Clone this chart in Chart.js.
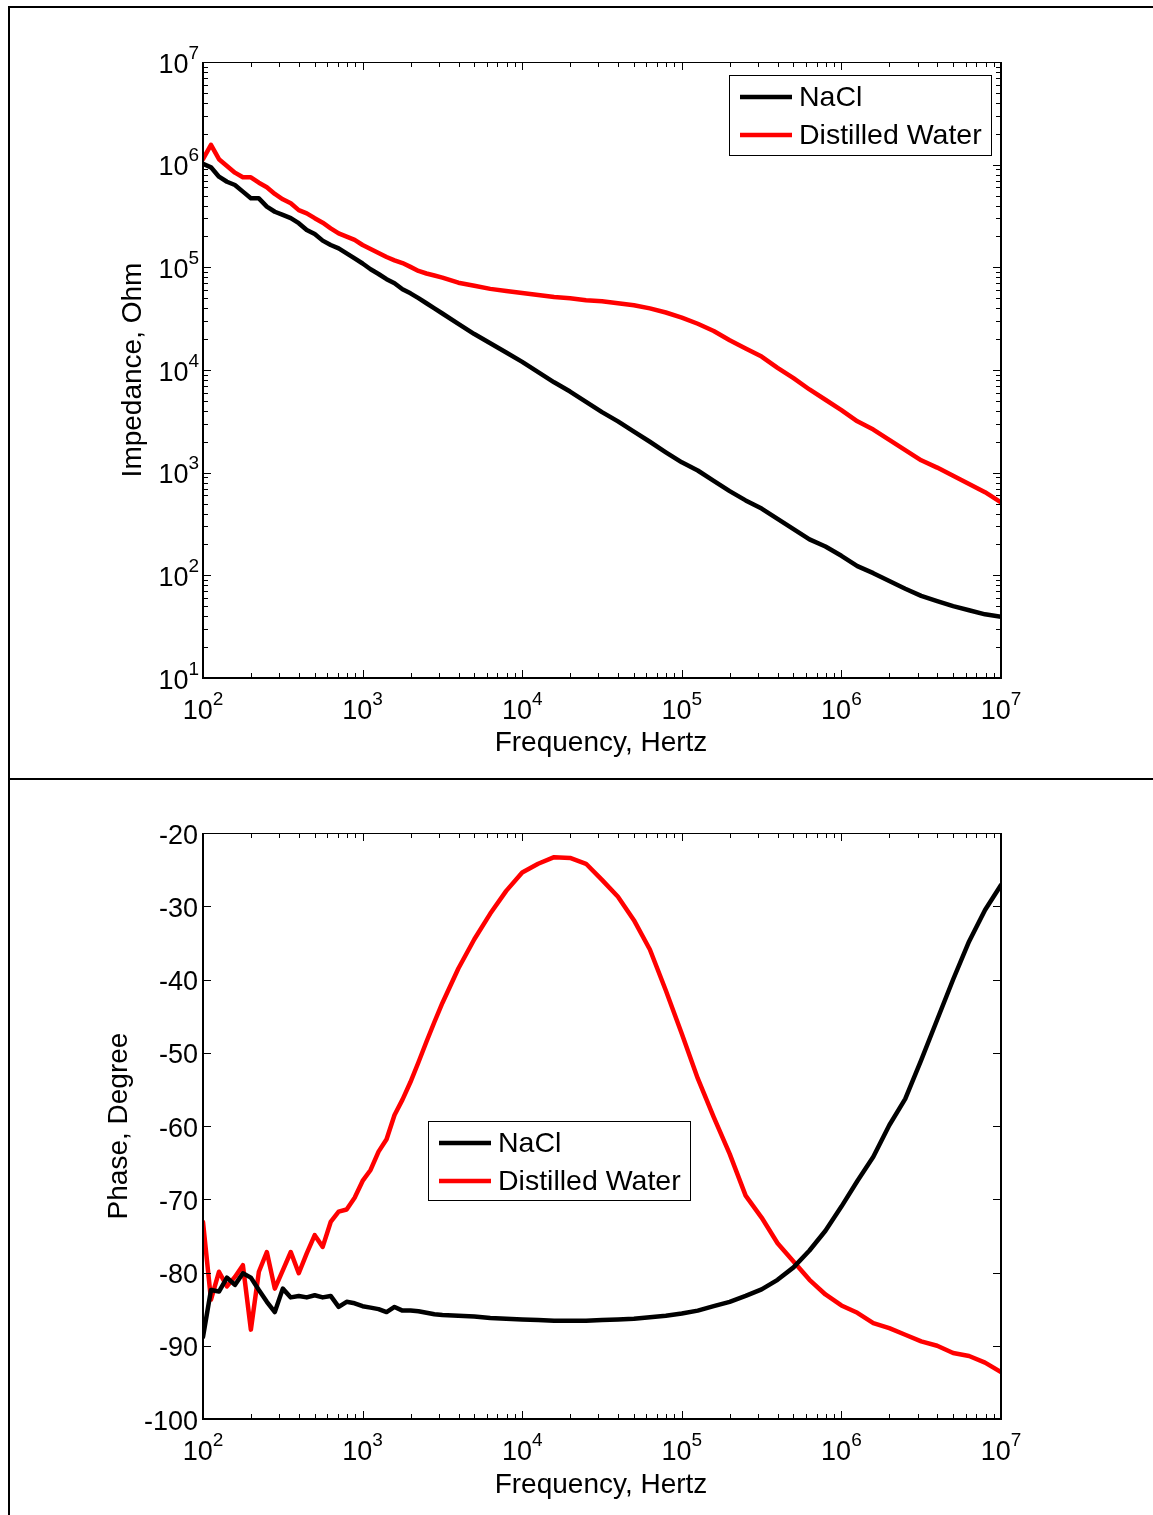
<!DOCTYPE html>
<html><head><meta charset="utf-8">
<script src="https://cdn.jsdelivr.net/npm/chart.js@4/dist/chart.umd.min.js"></script>
<style>
html,body{margin:0;padding:0;background:#fff;width:1153px;height:1515px;overflow:hidden;position:relative}
canvas{position:absolute;left:0}
#c1{top:0}
#c2{top:780px}
.ln{position:absolute;background:#000}
</style></head><body>
<canvas id="c1" width="1153" height="778"></canvas>
<canvas id="c2" width="1153" height="735"></canvas>
<div class="ln" style="left:8px;top:6px;width:1145px;height:2px"></div>
<div class="ln" style="left:8px;top:6px;width:2px;height:1509px"></div>
<div class="ln" style="left:8px;top:778px;width:1145px;height:2px"></div>
<script>
const frequencies = [100,112.2,125.9,141.3,158.5,177.8,199.5,223.9,251.2,281.8,316.2,354.8,398.1,446.7,501.2,562.3,631,707.9,794.3,891.3,1000,1122,1259,1413,1585,1778,1995,2239,2512,2818,3162,3981,5012,6310,7943,10000,12589,15849,19953,25119,31623,39811,50119,63096,79433,100000,125893,158489,199526,251189,316228,398107,501187,630957,794328,1000000,1258925,1584893,1995262,2511886,3162278,3981072,5011872,6309573,7943282,10000000];
const naclImpedance = [1.02e6,9.42e5,7.64e5,6.82e5,6.34e5,5.46e5,4.70e5,4.70e5,3.90e5,3.48e5,3.24e5,3.01e5,2.69e5,2.31e5,2.11e5,1.82e5,1.65e5,1.53e5,1.37e5,1.22e5,1.09e5,9.57e4,8.61e4,7.66e4,7.00e4,6.11e4,5.58e4,5.01e4,4.47e4,3.98e4,3.55e4,2.82e4,2.24e4,1.82e4,1.48e4,1.20e4,9550,7590,6170,4900,3890,3160,2510,2000,1580,1260,1050,832,661,537,447,355,282,224,191,155,123,105,88.1,74.1,63.1,56.2,50.1,45.7,41.7,39.4];
const waterImpedance = [1.13e6,1.56e6,1.13e6,9.70e5,8.36e5,7.53e5,7.53e5,6.67e5,6.03e5,5.18e5,4.60e5,4.21e5,3.61e5,3.36e5,3.01e5,2.72e5,2.40e5,2.14e5,1.99e5,1.85e5,1.65e5,1.51e5,1.38e5,1.26e5,1.17e5,1.10e5,1.01e5,9.23e4,8.71e4,8.32e4,7.94e4,7.08e4,6.61e4,6.17e4,5.89e4,5.62e4,5.37e4,5.13e4,5.01e4,4.79e4,4.68e4,4.47e4,4.27e4,3.98e4,3.63e4,3.24e4,2.82e4,2.40e4,1.95e4,1.62e4,1.35e4,1.05e4,8320,6460,5130,4070,3160,2630,2090,1660,1320,1120,933,776,646,513];
const naclPhase = [-88.8,-82.4,-82.6,-80.7,-81.7,-80.1,-80.7,-82.4,-84.0,-85.4,-82.2,-83.4,-83.2,-83.4,-83.1,-83.4,-83.2,-84.7,-84.0,-84.2,-84.6,-84.8,-85.0,-85.4,-84.7,-85.2,-85.2,-85.3,-85.5,-85.7,-85.8,-85.9,-86.0,-86.2,-86.3,-86.4,-86.5,-86.6,-86.6,-86.6,-86.5,-86.4,-86.3,-86.1,-85.9,-85.6,-85.2,-84.6,-84.0,-83.2,-82.3,-81.0,-79.3,-77.0,-74.3,-71.0,-67.5,-64.2,-59.9,-56.3,-51.0,-45.5,-40.0,-34.8,-30.5,-27.1];
const waterPhase = [-73.1,-83.7,-79.9,-81.9,-80.6,-79.0,-87.8,-79.9,-77.2,-82.2,-79.7,-77.2,-80.1,-77.4,-74.9,-76.5,-73.1,-71.7,-71.4,-69.8,-67.5,-66.0,-63.5,-61.8,-58.5,-56.4,-54.0,-51.3,-48.5,-45.8,-43.2,-38.5,-34.5,-31.0,-27.9,-25.4,-24.2,-23.3,-23.4,-24.2,-26.4,-28.7,-31.9,-35.9,-41.5,-47.4,-53.5,-58.8,-63.8,-69.5,-72.5,-76.0,-78.5,-81.0,-83.0,-84.5,-85.5,-86.9,-87.6,-88.5,-89.4,-90.0,-91.0,-91.4,-92.3,-93.6];
const seriesLabels = ['NaCl', 'Distilled Water'];
const seriesColors = ['#000000', '#ff0000'];
const xTickExponents = [2, 3, 4, 5, 6, 7];
const impedanceTickExponents = [1, 2, 3, 4, 5, 6, 7];
const phaseTicks = [-20, -30, -40, -50, -60, -70, -80, -90, -100];
const xTitle = 'Frequency, Hertz';
const impedanceTitle = 'Impedance, Ohm';
const phaseTitle = 'Phase, Degree';

const FONT = '"Liberation Sans", Arial, Helvetica, sans-serif';
const LINE_W = 4.5;

function pts(vals) { return frequencies.map((f, i) => ({x: f, y: vals[i]})); }

function drawPow(ctx, exp, x, baseY, align) {
  ctx.font = '27px ' + FONT; const w1 = ctx.measureText('10').width;
  ctx.font = '19px ' + FONT; const w2 = ctx.measureText(String(exp)).width;
  const start = align === 'center' ? x - (w1 + w2) / 2 : x - (w1 + w2);
  ctx.textAlign = 'left'; ctx.textBaseline = 'alphabetic';
  ctx.font = '27px ' + FONT; ctx.fillText('10', start, baseY);
  ctx.font = '19px ' + FONT; ctx.fillText(String(exp), start + w1, baseY - 14);
}

function logTickValues(exps) {
  const major = exps.map(e => Math.pow(10, e)), minor = [];
  for (let i = 0; i < exps.length - 1; i++) for (let m = 2; m <= 9; m++) minor.push(m * Math.pow(10, exps[i]));
  return {major, minor};
}

function axesPlugin(cfg) {
  return {
    id: 'matlabAxes',
    afterDraw(chart) {
      const ctx = chart.ctx, a = chart.chartArea, xs = chart.scales.x, ys = chart.scales.y;
      const L = Math.round(a.left), R = Math.round(a.right), T = Math.round(a.top), B = Math.round(a.bottom);
      ctx.save();
      ctx.strokeStyle = '#000'; ctx.fillStyle = '#000'; ctx.lineWidth = 1;
      const seg = (x1, y1, x2, y2) => { ctx.beginPath(); ctx.moveTo(x1, y1); ctx.lineTo(x2, y2); ctx.stroke(); };
      const MAJ = 8, MIN = 5;
      const xt = logTickValues(xTickExponents);
      xt.major.forEach(v => { const x = Math.round(xs.getPixelForValue(v)) + 0.5; seg(x, B, x, B - MAJ); seg(x, T, x, T + MAJ); });
      xt.minor.forEach(v => { const x = Math.round(xs.getPixelForValue(v)) + 0.5; seg(x, B, x, B - MIN); seg(x, T, x, T + MIN); });
      if (cfg.logY) {
        const yt = logTickValues(impedanceTickExponents);
        yt.major.forEach(v => { const y = Math.round(ys.getPixelForValue(v)) + 0.5; seg(L, y, L + MAJ, y); seg(R, y, R - MAJ, y); });
        yt.minor.forEach(v => { const y = Math.round(ys.getPixelForValue(v)) + 0.5; seg(L, y, L + MIN, y); seg(R, y, R - MIN, y); });
      } else {
        phaseTicks.forEach(v => { const y = Math.round(ys.getPixelForValue(v)) + 0.5; seg(L, y, L + MAJ, y); seg(R, y, R - MAJ, y); });
      }
      ctx.lineWidth = 2;
      seg(L, B, R + 1, B); seg(L, T, L, B + 1); seg(R, T, R, B + 1);
      ctx.lineWidth = 1;
      seg(L, T + 0.5, R, T + 0.5);
      xTickExponents.forEach(e => drawPow(ctx, e, xs.getPixelForValue(Math.pow(10, e)), B + 41, 'center'));
      if (cfg.logY) {
        impedanceTickExponents.forEach(e => drawPow(ctx, e, L - 4, ys.getPixelForValue(Math.pow(10, e)) + 10.5, 'right'));
      } else {
        ctx.font = '27px ' + FONT; ctx.textAlign = 'right'; ctx.textBaseline = 'alphabetic';
        phaseTicks.forEach(v => ctx.fillText(String(v), L - 5, ys.getPixelForValue(v) + 10.5));
      }
      ctx.font = '28px ' + FONT; ctx.textAlign = 'center'; ctx.textBaseline = 'alphabetic';
      ctx.fillText(xTitle, (L + R) / 2 - 1, B + cfg.xTitleOffset);
      ctx.save();
      ctx.translate(cfg.yTitleX, (T + B) / 2); ctx.rotate(-Math.PI / 2);
      ctx.fillText(cfg.yTitle, 0, 0);
      ctx.restore();
      const lg = cfg.legend;
      ctx.fillStyle = '#fff'; ctx.fillRect(lg.x, lg.y, lg.w, lg.h);
      ctx.strokeStyle = '#000'; ctx.lineWidth = 1;
      ctx.strokeRect(lg.x + 0.5, lg.y + 0.5, lg.w, lg.h);
      chart.data.datasets.forEach((ds, i) => {
        const yy = lg.y + 22 + i * 38;
        ctx.strokeStyle = ds.borderColor; ctx.lineWidth = LINE_W;
        seg(lg.x + 11, yy, lg.x + 63, yy);
        ctx.fillStyle = '#000'; ctx.font = '28.5px ' + FONT; ctx.textAlign = 'left'; ctx.textBaseline = 'middle';
        ctx.fillText(ds.label, lg.x + 70, yy + 1);
      });
      ctx.restore();
    }
  };
}

function makeChart(id, seriesA, seriesB, yScale, padding, cfg) {
  const ds = (i, vals) => ({label: seriesLabels[i], data: pts(vals), borderColor: seriesColors[i], borderWidth: LINE_W, pointRadius: 0, tension: 0, borderJoinStyle: 'round', borderCapStyle: 'round', fill: false});
  return new Chart(document.getElementById(id), {
    type: 'line',
    data: {datasets: [ds(0, seriesA), ds(1, seriesB)]},
    options: {
      responsive: false, animation: false, devicePixelRatio: 1,
      layout: {padding},
      scales: {
        x: {type: 'logarithmic', min: 100, max: 1e7, display: false},
        y: Object.assign({display: false}, yScale)
      },
      plugins: {legend: {display: false}, tooltip: {enabled: false}}
    },
    plugins: [axesPlugin(cfg)]
  });
}

makeChart('c1', naclImpedance, waterImpedance,
  {type: 'logarithmic', min: 10, max: 1e7},
  {left: 203, right: 152, top: 62, bottom: 100},
  {logY: true, yTitle: impedanceTitle, yTitleX: 141, xTitleOffset: 73, legend: {x: 729, y: 75, w: 262, h: 80}});

makeChart('c2', naclPhase, waterPhase,
  {type: 'linear', min: -100, max: -20},
  {left: 203, right: 152, top: 53, bottom: 96},
  {logY: false, yTitle: phaseTitle, yTitleX: 127, xTitleOffset: 74, legend: {x: 428, y: 341, w: 262, h: 79}});
</script>
</body></html>
